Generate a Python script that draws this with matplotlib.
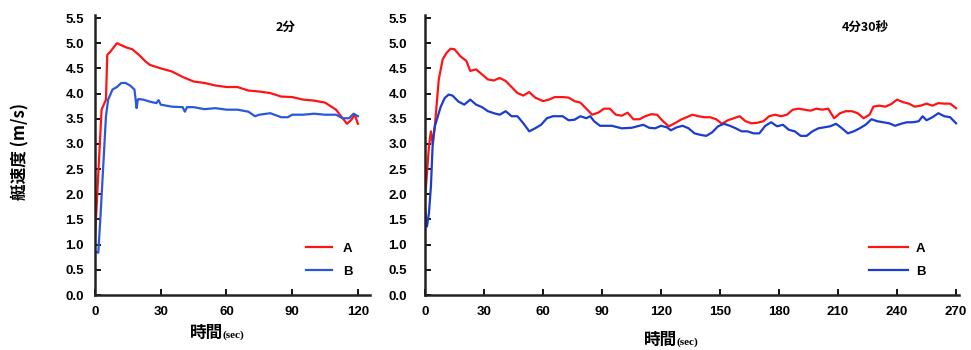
import matplotlib
matplotlib.use('Agg')
import matplotlib.pyplot as plt

# left panel (2分): time in sec, speed in m/s
t_a1 = [0, 3, 5, 5.6, 6.8, 10, 14, 17, 20, 23, 25, 30, 35, 40, 45, 50, 55, 60, 65, 70,
        75, 80, 85, 90, 95, 100, 105, 110, 113, 115, 117, 118.5, 120]
v_a1 = [1.13, 3.68, 3.88, 4.77, 4.82, 5.0, 4.92, 4.88, 4.77, 4.64, 4.57, 4.50, 4.44, 4.33, 4.24,
        4.21, 4.16, 4.13, 4.13, 4.06, 4.04, 4.01, 3.94, 3.93, 3.88, 3.86, 3.82, 3.68, 3.51, 3.40,
        3.48, 3.58, 3.40]
t_b1 = [0, 1.5, 2.5, 4, 5, 6, 8, 10, 12, 14, 16, 18, 19, 19.5, 20, 22, 25, 28, 29, 30, 35,
        40, 41, 42, 45, 50, 55, 60, 65, 70, 73, 75, 80, 85, 88, 90, 95, 100, 105, 110, 113,
        116, 118, 120]
v_b1 = [0.86, 0.84, 1.56, 2.75, 3.55, 3.88, 4.08, 4.13, 4.21, 4.21, 4.16, 4.08, 3.71, 3.88,
        3.89, 3.88, 3.84, 3.81, 3.87, 3.78, 3.74, 3.73, 3.64, 3.73, 3.73, 3.69, 3.71, 3.68, 3.68,
        3.64, 3.55, 3.58, 3.61, 3.53, 3.53, 3.58, 3.58, 3.60, 3.58, 3.58, 3.51, 3.51, 3.60, 3.55]

# right panel (4分30秒)
t_a2 = [0, 1, 2, 3, 4, 5, 7, 9, 11, 13, 15, 18, 21, 23, 26, 29, 32, 35, 38, 41, 44, 47, 50,
        53, 56, 60, 63, 66, 70, 73, 76, 79, 82, 85, 88, 91, 94, 97, 100, 103, 106, 109, 112,
        115, 118, 121, 124, 127, 130, 133, 136, 139, 142, 145, 148, 151, 154, 157, 160, 163,
        166, 169, 172, 175, 178, 181, 184, 187, 190, 193, 196, 199, 202, 205, 208, 211, 214,
        217, 220, 223, 226, 228, 231, 234, 237, 240, 243, 246, 249, 252, 255, 258, 261, 264,
        267, 270]
v_a2 = [1.89, 2.42, 2.95, 3.25, 2.99, 3.35, 4.28, 4.68, 4.81, 4.89, 4.88, 4.74, 4.65, 4.45,
        4.48, 4.38, 4.28, 4.26, 4.31, 4.25, 4.13, 4.01, 3.96, 4.03, 3.92, 3.85, 3.88, 3.93, 3.93,
        3.92, 3.85, 3.82, 3.70, 3.58, 3.62, 3.70, 3.70, 3.58, 3.56, 3.62, 3.49, 3.49, 3.55, 3.59,
        3.58, 3.45, 3.35, 3.41, 3.48, 3.53, 3.58, 3.55, 3.53, 3.53, 3.49, 3.40, 3.47, 3.51, 3.55,
        3.45, 3.41, 3.42, 3.45, 3.55, 3.58, 3.55, 3.58, 3.68, 3.70, 3.68, 3.66, 3.70, 3.68, 3.70,
        3.51, 3.61, 3.65, 3.65, 3.61, 3.51, 3.58, 3.74, 3.76, 3.74, 3.79, 3.88, 3.83, 3.80, 3.74,
        3.76, 3.80, 3.76, 3.81, 3.80, 3.80, 3.71]
t_b2 = [0, 1, 2, 3, 4, 5, 6, 8, 10, 12, 14, 17, 20, 23, 26, 29, 32, 35, 38, 41, 44, 47, 50,
        53, 56, 59, 62, 65, 70, 73, 76, 79, 82, 84, 86, 89, 92, 95, 100, 105, 108, 111, 114,
        117, 120, 123, 125, 128, 131, 134, 137, 140, 143, 146, 149, 152, 155, 158, 161, 164,
        167, 170, 173, 176, 179, 182, 185, 188, 191, 194, 197, 200, 203, 206, 209, 212, 215,
        218, 221, 224, 227, 230, 233, 236, 239, 242, 245, 248, 251, 253, 255, 258, 261, 264,
        267, 270]
v_b2 = [1.72, 1.36, 1.62, 2.15, 3.08, 3.35, 3.48, 3.74, 3.91, 3.98, 3.96, 3.84, 3.78, 3.88,
        3.78, 3.73, 3.65, 3.61, 3.58, 3.65, 3.55, 3.55, 3.41, 3.25, 3.31, 3.38, 3.51, 3.55, 3.55,
        3.47, 3.48, 3.55, 3.51, 3.55, 3.45, 3.36, 3.36, 3.36, 3.31, 3.32, 3.35, 3.38, 3.32, 3.31,
        3.36, 3.33, 3.27, 3.33, 3.36, 3.31, 3.21, 3.18, 3.16, 3.23, 3.35, 3.40, 3.36, 3.31, 3.25,
        3.25, 3.21, 3.21, 3.36, 3.43, 3.35, 3.38, 3.28, 3.25, 3.16, 3.16, 3.25, 3.31, 3.33, 3.35,
        3.40, 3.31, 3.21, 3.25, 3.31, 3.38, 3.49, 3.45, 3.43, 3.41, 3.36, 3.40, 3.43, 3.43, 3.45,
        3.55, 3.47, 3.53, 3.61, 3.55, 3.53, 3.41]

yticks = [0.0, 0.5, 1.0, 1.5, 2.0, 2.5, 3.0, 3.5, 4.0, 4.5, 5.0, 5.5]
xticks1 = [0, 30, 60, 90, 120]
xticks2 = [0, 30, 60, 90, 120, 150, 180, 210, 240, 270]

RED = '#ff1414'
BLUE1 = '#2a58dc'
BLUE2 = '#1a3dd0'
LAT = ['Liberation Sans', 'Noto Sans CJK JP']
CJK = ['Noto Sans CJK JP', 'DejaVu Sans']

fig = plt.figure(figsize=(9.71, 3.5), dpi=100)
ax1 = fig.add_axes([95 / 971, 55 / 350, 275 / 971, 280 / 350])
ax2 = fig.add_axes([425 / 971, 55 / 350, 534 / 971, 280 / 350])


def style(ax, xticks, xmax, ypad):
    ax.set_xlim(0, xmax)
    ax.set_ylim(0, 5.56)
    ax.set_xticks(xticks)
    ax.set_yticks(yticks)
    ax.set_yticklabels([f'{v:.1f}' for v in yticks])
    for s in ['top', 'right']:
        ax.spines[s].set_visible(False)
    for s in ['left', 'bottom']:
        ax.spines[s].set_linewidth(1.8)
        ax.spines[s].set_color('#222222')
    ax.tick_params(direction='in', length=4, width=1.3, labelsize=9.5)
    ax.tick_params(axis='x', pad=8)
    ax.tick_params(axis='y', pad=ypad)
    for lab in ax.get_xticklabels() + ax.get_yticklabels():
        lab.set_family(LAT)
        lab.set_fontweight('bold')


ax1.plot(t_a1, v_a1, color=RED, lw=1.6, label='A')
ax1.plot(t_b1, v_b1, color=BLUE1, lw=1.6, label='B')
style(ax1, xticks1, 125.5, 8)
ax1.text(0.655, 0.955, '2分', transform=ax1.transAxes, fontsize=9, fontweight='bold',
         family=CJK, ha='left', va='center')
ax1.legend(loc='lower right', bbox_to_anchor=(0.98, 0.02), frameon=False, handlelength=2.0,
           labelspacing=0.8, handletextpad=0.8, prop={'family': LAT, 'weight': 'bold', 'size': 9.5})

ax2.plot(t_a2, v_a2, color=RED, lw=1.6, label='A')
ax2.plot(t_b2, v_b2, color=BLUE2, lw=1.6, label='B')
style(ax2, xticks2, 271.5, 13)
ax2.text(0.825, 0.955, '4分30秒', transform=ax2.transAxes, fontsize=9, fontweight='bold',
         family=CJK, ha='center', va='center')
ax2.legend(loc='lower right', bbox_to_anchor=(0.96, 0.02), frameon=False, handlelength=3.0,
           labelspacing=0.8, handletextpad=0.6, prop={'family': LAT, 'weight': 'bold', 'size': 9.5})

# axis titles
fig.text(207 / 971, 1 - 333 / 350, '時間', fontsize=12, fontweight='bold', family=CJK,
         ha='center', va='center')
fig.text(222 / 971, 1 - 335 / 350, '(sec)', fontsize=8, fontweight='bold',
         family=['Liberation Serif'], ha='left', va='center')
fig.text(661 / 971, 1 - 340 / 350, '時間', fontsize=12, fontweight='bold', family=CJK,
         ha='center', va='center')
fig.text(676 / 971, 1 - 342 / 350, '(sec)', fontsize=8, fontweight='bold',
         family=['Liberation Serif'], ha='left', va='center')
fig.text(20 / 971, 1 - 152 / 350, '艇速度 (m/s)', fontsize=12, fontweight='bold',
         family=CJK, rotation=90, ha='center', va='center')

fig.savefig('out.png', dpi=100)
